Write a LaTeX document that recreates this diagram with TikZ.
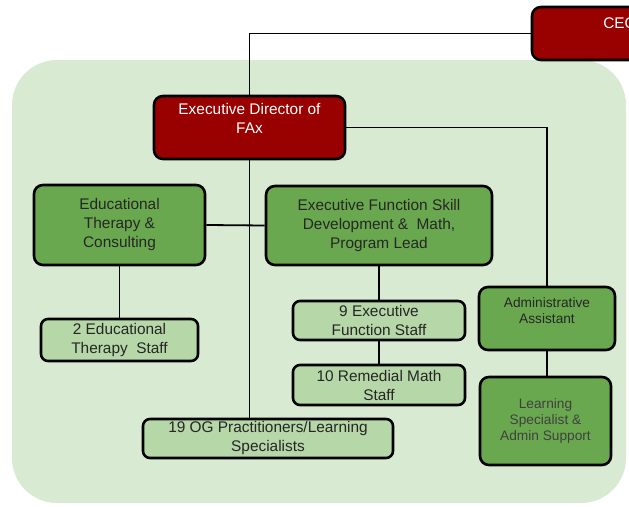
\documentclass[tikz,border=0pt]{standalone}
\usepackage{fontspec}
\setmainfont{Liberation Sans}
\definecolor{darkred}{HTML}{990000}
\definecolor{midgreen}{HTML}{6AA84F}
\definecolor{lightgreen}{HTML}{B6D7A8}
\definecolor{paleback}{HTML}{D9EAD3}
\begin{document}
\begin{tikzpicture}[x=1pt,y=-1pt,line width=1.8pt,
box/.style={draw,line width=2.6pt,rounded corners=9pt,align=center,inner sep=0pt,text=black!85,font=\fontsize{15.4}{19}\selectfont},
redbox/.style={box,fill=darkred},
headbox/.style={box,fill=midgreen},
staffbox/.style={box,fill=lightgreen,rounded corners=7pt},
smallbox/.style={box,fill=midgreen,font=\fontsize{13.7}{16}\selectfont},
wtext/.style={align=center,text=white,inner sep=0pt,font=\fontsize{15.4}{19}\selectfont}]
\fill[white](0,0)rectangle(629,506);
\useasboundingbox(0,0)rectangle(629,506);
\fill[paleback,rounded corners=45pt](12,60)rectangle(626,503);
% top level
\node[redbox,minimum width=176,minimum height=53,label={[wtext,yshift=10pt]center:CEO}](ceo)at(620,33.5){};
\node[redbox,minimum width=191,minimum height=63,label={[wtext,yshift=9pt]center:Executive Director of\\FAx}](ed)at(249.5,127.5){};
% programs
\node[headbox,minimum width=171,minimum height=80](edt)at(119.5,225){Educational\\Therapy \&\\Consulting};
\node[headbox,minimum width=226,minimum height=79](efp)at(379,225.5){Executive Function Skill\\Development \&\ \ Math,\\Program Lead};
\node[staffbox,minimum width=157,minimum height=42](eds)at(119.5,340){2 Educational\\Therapy\ \ Staff};
\node[staffbox,minimum width=172,minimum height=39](efs)at(379,320.5){9 Executive\\Function Staff};
\node[staffbox,minimum width=172,minimum height=40](rms)at(379,385){10 Remedial Math\\Staff};
\node[staffbox,minimum width=250,minimum height=39](og)at(268,438.5){19 OG Practitioners/Learning\\Specialists};
% admin
\node[smallbox,minimum width=136,minimum height=63,label={[align=center,inner sep=0pt,text=black!85,font=\fontsize{13.7}{16}\selectfont,yshift=7.5pt]center:Administrative\\Assistant}](adm)at(547,318.5){};
\node[smallbox,minimum width=131,minimum height=88,text=black!75](lsa)at(545.5,421){Learning\\Specialist \&\\Admin Support};
% lines
\draw(ceo.west)-|(ed.north);
\draw(ed.east)-|(adm.north);
\draw(ed.south)--(ed.south|-og.north);
\draw(edt.east)--(efp.west);
\draw(edt.south)--(eds.north);
\draw(efp.south)--(efs.north);
\draw(efs.south)--(rms.north);
\draw(adm.south)--(adm.south|-lsa.north);
\end{tikzpicture}
\end{document}
